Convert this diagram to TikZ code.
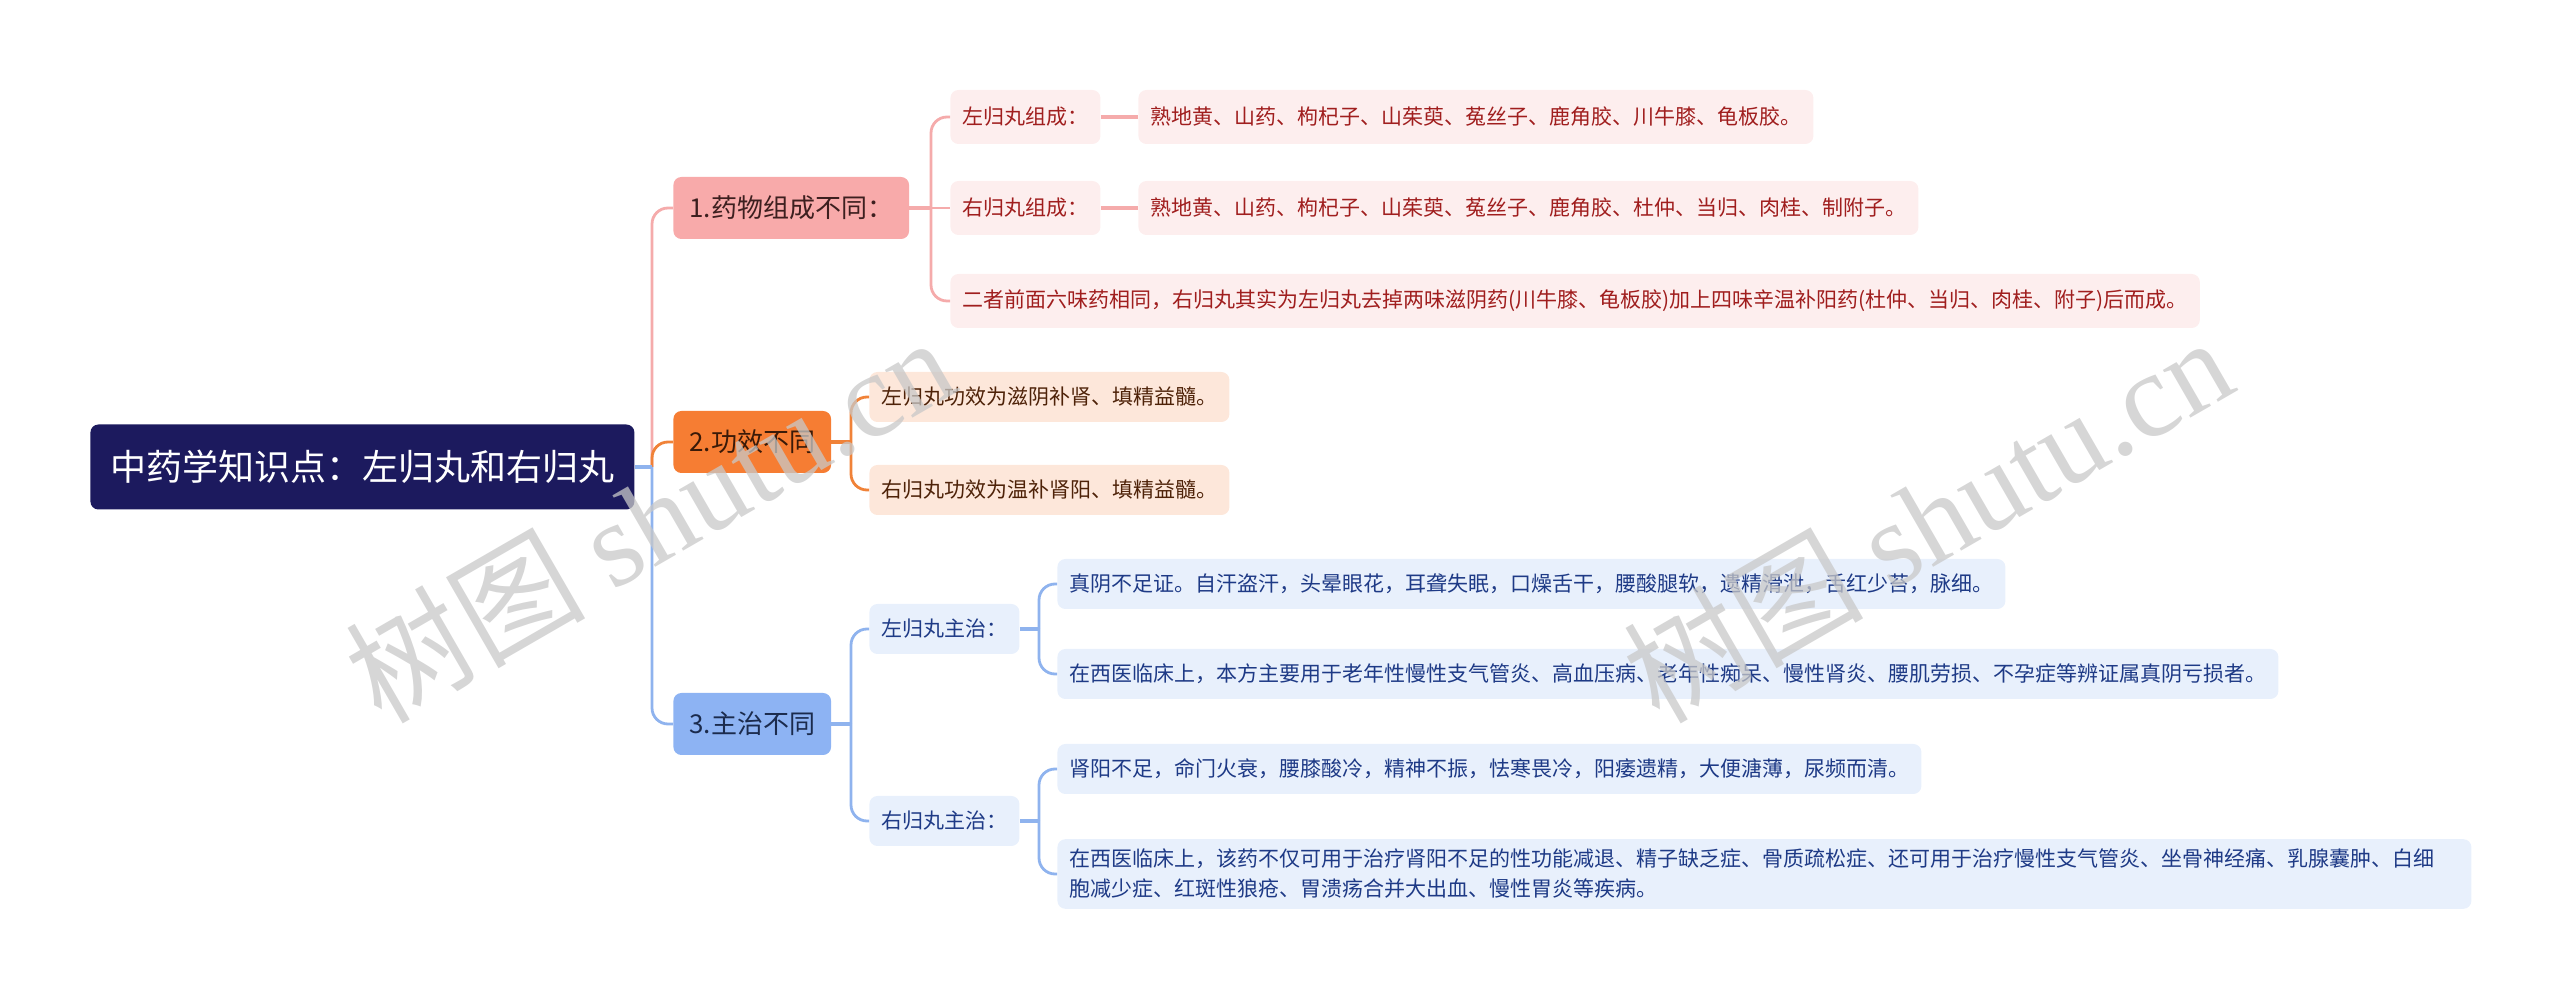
\documentclass[tikz,border=0pt]{standalone}
\usepackage{fontspec}
\setmainfont{Noto Sans CJK SC}
\newfontfamily\stampfont{Liberation Serif}
\usetikzlibrary{positioning}
\definecolor{RootInk}{HTML}{1C1A5E}
\definecolor{RoseFill}{HTML}{F8AAAA}
\definecolor{RoseLine}{HTML}{F5ABAB}
\definecolor{RoseLeaf}{HTML}{FDEEEE}
\definecolor{RoseText}{HTML}{A01E1E}
\definecolor{RoseDark}{HTML}{3D1F1F}
\definecolor{AmberFill}{HTML}{F67D33}
\definecolor{AmberLine}{HTML}{F08238}
\definecolor{AmberLeaf}{HTML}{FDE7DA}
\definecolor{AmberText}{HTML}{4E2208}
\definecolor{AmberDark}{HTML}{3A1A08}
\definecolor{SkyFill}{HTML}{8DB3F3}
\definecolor{SkyLine}{HTML}{8FB3EE}
\definecolor{SkyLeaf}{HTML}{E8F0FC}
\definecolor{SkyText}{HTML}{1E3A86}
\definecolor{SkyDark}{HTML}{1B2B4D}
\definecolor{StampGray}{HTML}{C8C8C8}

\begin{document}
\begin{tikzpicture}[
  x=0.5pt,
  y=-0.5pt,
  root/.style={rectangle,rounded corners=4pt,fill=RootInk,text=white,anchor=west,
    minimum height=42.5pt,inner xsep=10pt,font=\fontsize{18}{22}\selectfont},
  topic/.style={rectangle,rounded corners=4pt,anchor=west,minimum height=31pt,
    inner xsep=8pt,font=\fontsize{13}{16}\selectfont},
  leaf/.style={rectangle,rounded corners=4pt,anchor=west,minimum height=25pt,
    inner xsep=6pt,font=\fontsize{10.5}{15}\selectfont},
  rose leaf/.style={leaf,fill=RoseLeaf,text=RoseText,minimum height=27pt},
  amber leaf/.style={leaf,fill=AmberLeaf,text=AmberText},
  sky leaf/.style={leaf,fill=SkyLeaf,text=SkyText},
  stem/.style={line width=2.4pt},
  branch/.style={line width=1.4pt,rounded corners=8pt},
  stamp/.style={rotate=30,text=StampGray,opacity=0.75,font=\fontsize{60}{64}\selectfont}
]
  \useasboundingbox (0,0) rectangle (2560,1004);

  \node[root] (root) at (90,467) {中药学知识点：左归丸和右归丸};
  \node[topic,fill=RoseFill,text=RoseDark] (make) at (673,208) {1.药物组成不同：};
  \node[topic,fill=AmberFill,text=AmberDark] (effect) at (673,442) {2.功效不同};
  \node[topic,fill=SkyFill,text=SkyDark] (treat) at (673,724) {3.主治不同};

  \node[rose leaf] (leftmake) at (950,117) {左归丸组成：};
  \node[rose leaf] (leftherbs) at (1138,117) {熟地黄、山药、枸杞子、山茱萸、菟丝子、鹿角胶、川牛膝、龟板胶。};
  \node[rose leaf] (rightmake) at (950,208) {右归丸组成：};
  \node[rose leaf] (rightherbs) at (1138,208) {熟地黄、山药、枸杞子、山茱萸、菟丝子、鹿角胶、杜仲、当归、肉桂、制附子。};
  \node[rose leaf] (bothsame) at (950,301) {二者前面六味药相同，右归丸其实为左归丸去掉两味滋阴药(川牛膝、龟板胶)加上四味辛温补阳药(杜仲、当归、肉桂、附子)后而成。};

  \node[amber leaf] (lefteffect) at (869,397) {左归丸功效为滋阴补肾、填精益髓。};
  \node[amber leaf] (righteffect) at (869,490) {右归丸功效为温补肾阳、填精益髓。};

  \node[sky leaf] (lefttreat) at (869,629) {左归丸主治：};
  \node[sky leaf] (righttreat) at (869,821) {右归丸主治：};
  \node[sky leaf] (leftsign) at (1057,584) {真阴不足证。自汗盗汗，头晕眼花，耳聋失眠，口燥舌干，腰酸腿软，遗精滑泄，舌红少苔，脉细。};
  \node[sky leaf] (leftwest) at (1057,674) {在西医临床上，本方主要用于老年性慢性支气管炎、高血压病、老年性痴呆、慢性肾炎、腰肌劳损、不孕症等辨证属真阴亏损者。};
  \node[sky leaf] (rightsign) at (1057,769) {肾阳不足，命门火衰，腰膝酸冷，精神不振，怯寒畏冷，阳痿遗精，大便溏薄，尿频而清。};
  \node[sky leaf,text width=695pt,align=left,inner ysep=5pt] (rightwest) at (1057,874) {在西医临床上，该药不仅可用于治疗肾阳不足的性功能减退、精子缺乏症、骨质疏松症、还可用于治疗慢性支气管炎、坐骨神经痛、乳腺囊肿、白细\\胞减少症、红斑性狼疮、胃溃疡合并大出血、慢性胃炎等疾病。};

  \coordinate (rootfork) at (652,467);
  \coordinate (makefork) at (931,208);
  \coordinate (effectfork) at (851,442);
  \coordinate (treatfork) at (851,724);
  \coordinate (leftfork) at (1039,629);
  \coordinate (rightfork) at (1039,821);

  \draw[branch,RoseLine] (rootfork) |- (make.west);
  \draw[branch,AmberLine] (rootfork) |- (effect.west);
  \draw[branch,SkyLine] (rootfork) |- (treat.west);
  \draw[stem,SkyLine] (root.east) -- (rootfork);

  \draw[stem,RoseLine] (make.east) -- (makefork);
  \draw[branch,RoseLine] (makefork) |- (leftmake.west);
  \draw[branch,RoseLine] (makefork) -- (rightmake.west);
  \draw[branch,RoseLine] (makefork) |- (bothsame.west);
  \draw[stem,RoseLine] (leftmake.east) -- (leftherbs.west);
  \draw[stem,RoseLine] (rightmake.east) -- (rightherbs.west);

  \draw[stem,AmberLine] (effect.east) -- (effectfork);
  \draw[branch,AmberLine] (effectfork) |- (lefteffect.west);
  \draw[branch,AmberLine] (effectfork) |- (righteffect.west);

  \draw[stem,SkyLine] (treat.east) -- (treatfork);
  \draw[branch,SkyLine] (treatfork) |- (lefttreat.west);
  \draw[branch,SkyLine] (treatfork) |- (righttreat.west);
  \draw[stem,SkyLine] (lefttreat.east) -- (leftfork);
  \draw[branch,SkyLine] (leftfork) |- (leftsign.west);
  \draw[branch,SkyLine] (leftfork) |- (leftwest.west);
  \draw[stem,SkyLine] (righttreat.east) -- (rightfork);
  \draw[branch,SkyLine] (rightfork) |- (rightsign.west);
  \draw[branch,SkyLine] (rightfork) |- (rightwest.west);

  \node[stamp] (stampleft) at (649,518) {树图 {\stampfont shutu.cn}};
  \node[stamp] (stampright) at (1927,518) {树图 {\stampfont shutu.cn}};
\end{tikzpicture}
\end{document}
